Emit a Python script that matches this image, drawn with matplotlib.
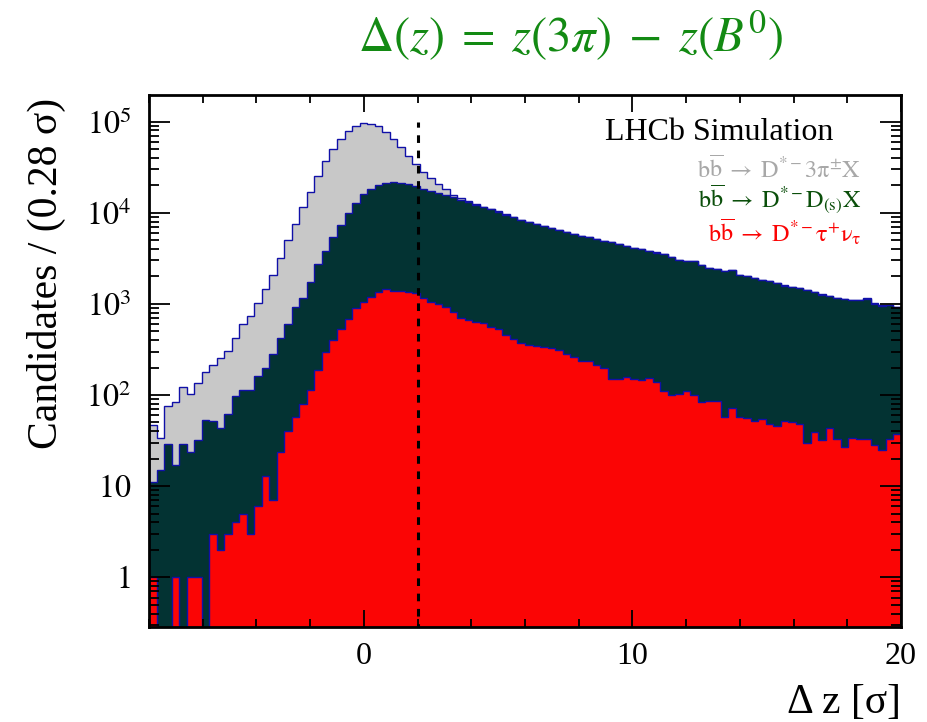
#!/usr/bin/python
# -*- coding: utf-8 -*-
import numpy as np
import matplotlib as mpl
mpl.use('Agg')
import matplotlib.pyplot as plt
from matplotlib.ticker import FixedLocator, MultipleLocator, LogLocator, NullFormatter

########data########
# delta z binning : 100 bins of 0.28 sigma from -8 to 20
x_lo, x_hi, n_bins = -8.0, 20.0, 100

# b bbar -> D*- 3pi X (inclusive, grey)
incl = [47, 34, 76, 83, 122, 103, 134, 181, 214, 253,
        305, 427, 598, 738, 1018, 1463, 2080, 3220, 5000, 7550,
        11700, 17100, 25600, 37100, 50300, 65300, 79800, 90600, 96400, 94000,
        90000, 77900, 65300, 52500, 42200, 34400, 28300, 24000, 20600, 18100,
        15600, 14400, 13500, 12500, 11600, 11100, 10400, 9600, 9030, 8430,
        7950, 7560, 7120, 6830, 6540, 6160, 5850, 5600, 5420, 5200,
        4950, 4745, 4545, 4360, 4110, 4005, 3840, 3685, 3535, 3280,
        3065, 2990, 2940, 2705, 2485, 2425, 2280, 2340, 2100, 2015,
        1932, 1850, 1774, 1703, 1593, 1538, 1500, 1416, 1347, 1270,
        1217, 1168, 1139, 1100, 1100, 1148, 1012, 961, 985, 930]

# b bbar -> D*- D(s) X (dark green)
dds = [11, 15, 29, 17, 29, 24, 32, 53, 52, 44,
       62, 98, 114, 115, 163, 197, 280, 420, 598, 934,
       1170, 1756, 2730, 3820, 5480, 7360, 10000, 12700, 16000, 18400,
       20100, 21100, 21500, 21100, 20600, 19600, 18300, 17400, 16400, 15600,
       14800, 13900, 13100, 12200, 11500, 11000, 10300, 9500, 8950, 8360,
       7890, 7500, 7070, 6780, 6500, 6115, 5810, 5570, 5390, 5170,
       4920, 4720, 4520, 4335, 4085, 3985, 3820, 3665, 3515, 3260,
       3050, 2975, 2925, 2690, 2470, 2410, 2270, 2330, 2090, 2005,
       1923, 1840, 1765, 1695, 1585, 1530, 1493, 1409, 1340, 1263,
       1211, 1162, 1133, 1095, 1095, 1142, 1007, 956, 980, 925]

# b bbar -> D*- tau+ nu (red)
taunu = [1, 0, 0, 1, 0, 1, 1, 0, 3, 2,
         3, 4, 5, 3, 6, 13, 7, 24, 40, 58,
         79, 114, 186, 300, 403, 527, 679, 897, 1060, 1183,
         1364, 1462, 1400, 1390, 1364, 1310, 1155, 1060, 990, 935,
         824, 708, 667, 640, 614, 565, 528, 458, 411, 372,
         356, 342, 336, 328, 310, 282, 261, 234, 234, 215,
         198, 150, 150, 158, 150, 146, 153, 140, 112, 100,
         102, 111, 99, 83, 86, 85, 58, 73, 58, 56,
         52, 55, 48, 46, 52, 51, 48, 30, 39, 32,
         44, 33, 27, 34, 33, 33, 28, 25, 33, 37]

cut_value = 2.0
y_ticks = [1, 10, 100, 1000, 10000, 100000]
y_tick_labels = [r'$1$', r'$10$', r'$10^{2}$', r'$10^{3}$', r'$10^{4}$', r'$10^{5}$']
x_ticks = [0, 10, 20]

legend_lines = [
    (r'$\mathrm{b\overline{b}\;\rightarrow\; D^{*-}3\pi^{\pm}X}$', '#a8a8a8'),
    (r'$\mathrm{b\overline{b}\;\rightarrow\; D^{*-}D_{(s)}X}$', '#0b4f0b'),
    (r'$\mathrm{b\overline{b}\;\rightarrow\; D^{*-}\tau^{+}\nu_{\tau}}$', '#fb0303'),
]

plt.rcParams['font.family'] = ['Liberation Serif', 'DejaVu Serif']
plt.rcParams['mathtext.fontset'] = 'stix'


def draw_picture(output):
    edges = np.linspace(x_lo, x_hi, n_bins + 1)
    fig = plt.figure(figsize=(9.28, 7.22), dpi=100)
    ax = fig.add_axes([149 / 928., 1 - 627 / 722., 752 / 928., 532 / 722.])

    edge_col = '#1010a8'
    # zero bins pushed far below the visible range for the log scale
    for vals, face in [(incl, '#c8c8c8'), (dds, '#033333'), (taunu, '#fb0505')]:
        v = np.asarray(vals, dtype=float)
        v = np.where(v > 0, v, 1e-3)
        ax.stairs(v, edges, fill=True, baseline=1e-3,
                  facecolor=face, edgecolor=edge_col, linewidth=1.0)

    ax.vlines(cut_value, 1e-3, 1e5, colors='black', linestyles=(0, (2.5, 2.5)), linewidth=2.2)

    ax.set_yscale('log')
    ax.set_xlim(x_lo, x_hi)
    ax.set_ylim(0.285, 1.96e5)

    ax.xaxis.set_major_locator(FixedLocator(x_ticks))
    ax.xaxis.set_minor_locator(MultipleLocator(2))
    ax.set_xticklabels([str(t) for t in x_ticks])
    ax.yaxis.set_major_locator(FixedLocator(y_ticks))
    ax.yaxis.set_minor_locator(LogLocator(base=10, subs=np.arange(2, 10), numticks=20))
    ax.yaxis.set_minor_formatter(NullFormatter())
    ax.set_yticklabels(y_tick_labels)

    ax.tick_params(which='both', direction='in', top=True, right=True,
                   width=1.3, labelsize=23, colors='black')
    ax.tick_params(axis='x', which='major', length=12, pad=11)
    ax.tick_params(axis='x', which='minor', length=6)
    ax.tick_params(axis='y', which='major', length=15, pad=13)
    ax.tick_params(axis='y', which='minor', length=7.5)
    for sp in ax.spines.values():
        sp.set_linewidth(2)

    fig.text(46 / 928., 1 - 98 / 722., 'Candidates / (0.28 \u03c3)', rotation=90,
             ha='center', va='top', fontsize=30)
    fig.text(901 / 928., 1 - 713 / 722., '\u0394 z [\u03c3]', ha='right',
             va='baseline', fontsize=30)

    fig.text(571 / 928., 1 - 36 / 722., r'$\Delta(z)\;=\;z(3\pi)\;-\;z(B^0)$',
             ha='center', va='center', color='#138a13', fontsize=35)

    fig.text(833 / 928., 1 - 140 / 722., 'LHCb Simulation', ha='right',
             va='baseline', fontsize=23)
    base_y = [178, 207, 242]
    for (txt, col), by in zip(legend_lines, base_y):
        fig.text(861 / 928., 1 - by / 722., txt, ha='right', va='baseline',
                 color=col, fontsize=17.5)

    fig.savefig(output, dpi=100)
    plt.close(fig)


def main():
    draw_picture('out.png')


if __name__ == '__main__':
    main()
